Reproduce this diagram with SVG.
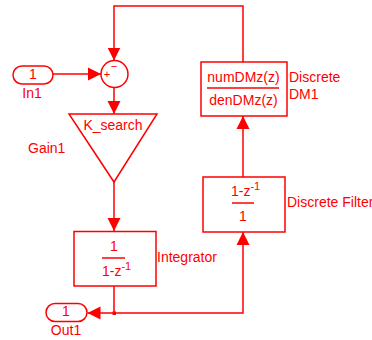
<svg xmlns="http://www.w3.org/2000/svg" width="372" height="340" viewBox="0 0 372 340">
<defs>
<style>
.blk{fill:#fff;stroke:#f00;stroke-width:1.5}
.ln{fill:none;stroke:#f00;stroke-width:1.5}
text{font-family:"Liberation Sans",Arial,sans-serif;font-size:14px;fill:#f00}
.c{text-anchor:middle}
.sm{font-size:11px}
</style>
<marker id="ah" markerUnits="userSpaceOnUse" markerWidth="14" markerHeight="14" refX="13" refY="7" orient="auto">
<path d="M0,0.5 L13,7 L0,13.5 z" fill="#f00"/>
</marker>
</defs>
<rect width="372" height="340" fill="#fff"/>
<g id="connectors">
<path class="ln" d="M53,74 H101" marker-end="url(#ah)"/>
<path class="ln" d="M243,62 V6 H114 V60.5" marker-end="url(#ah)"/>
<path class="ln" d="M114,88 V114" marker-end="url(#ah)"/>
<path class="ln" d="M114,182 V231" marker-end="url(#ah)"/>
<path class="ln" d="M114,286 V313 H87.5" marker-end="url(#ah)"/>
<path class="ln" d="M114,313 H243 V232" marker-end="url(#ah)"/>
<path class="ln" d="M243,177 V116" marker-end="url(#ah)"/>
<rect x="112.5" y="311.5" width="3.5" height="3.5" fill="#f00"/>
</g>
<g id="In1">
<rect class="blk" x="13" y="66" width="40" height="18" rx="9"/>
<text class="c" x="33" y="79">1</text>
<text class="c" x="32" y="98">In1</text>
</g>
<g id="Sum">
<circle class="blk" cx="114.5" cy="74" r="13.5"/>
<text class="c sm" x="107" y="78">+</text>
<text class="c sm" x="114" y="70">−</text>
</g>
<g id="Gain1">
<path class="blk" d="M69,114 H157 L114,182 Z"/>
<text class="c" x="113" y="130">K_search</text>
<text x="28" y="153">Gain1</text>
</g>
<g id="Integrator">
<rect class="blk" x="74" y="231.5" width="82" height="54.5"/>
<text class="c" x="114" y="251">1</text>
<line class="ln" x1="102" y1="258" x2="125" y2="258" stroke-width="1"/>
<text x="102" y="276">1-z<tspan class="sm" dy="-6">-1</tspan></text>
<text x="157" y="262">Integrator</text>
</g>
<g id="Out1">
<rect class="blk" x="46" y="303.5" width="41" height="18" rx="9"/>
<text class="c" x="66" y="316">1</text>
<text class="c" x="66" y="335">Out1</text>
</g>
<g id="DiscreteFilter">
<rect class="blk" x="203" y="177" width="82" height="55"/>
<text x="231" y="196">1-z<tspan class="sm" dy="-6">-1</tspan></text>
<line class="ln" x1="232" y1="203" x2="254" y2="203" stroke-width="1"/>
<text class="c" x="243" y="221">1</text>
<text x="287" y="207">Discrete Filter</text>
</g>
<g id="DiscreteDM1">
<rect class="blk" x="201" y="62" width="86" height="54"/>
<text class="c" x="243.5" y="82">numDMz(z)</text>
<line class="ln" x1="207" y1="88" x2="279" y2="88" stroke-width="1"/>
<text class="c" x="243.5" y="105">denDMz(z)</text>
<text x="289" y="82">Discrete</text>
<text x="289" y="99">DM1</text>
</g>
</svg>
